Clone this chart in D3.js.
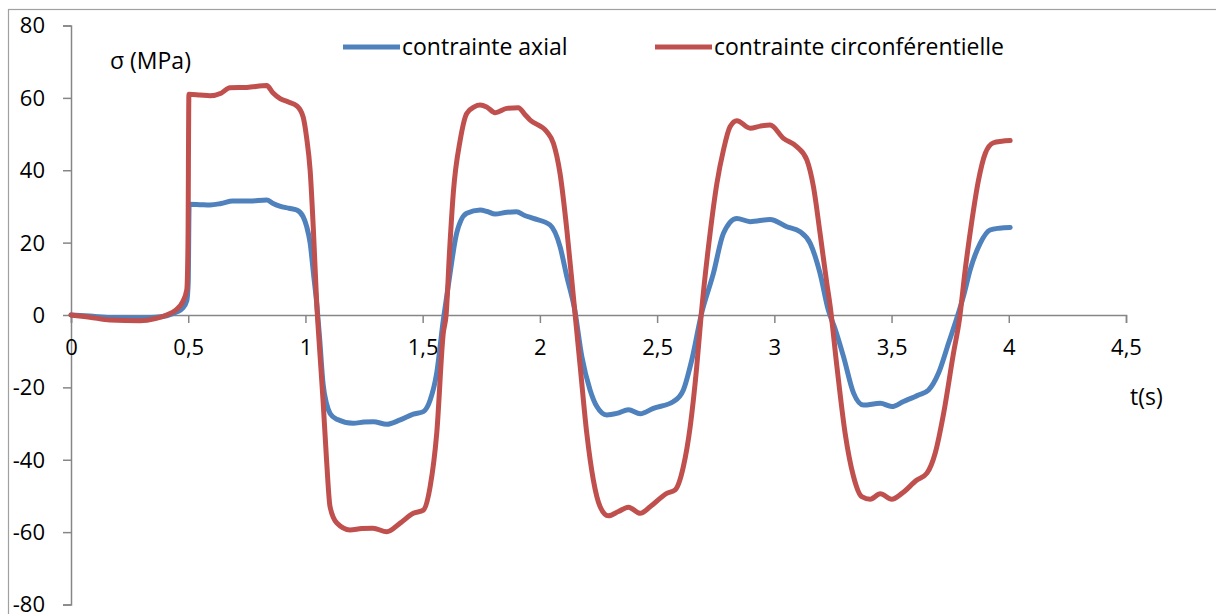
<!DOCTYPE html>
<html>
<head>
<meta charset="utf-8">
<script src="https://cdn.jsdelivr.net/npm/d3@7/dist/d3.min.js"></script>
<style>
  html, body { margin: 0; padding: 0; background: #fff; }
  svg { display: block; }
  text { font-family: "Open Sans", "Liberation Sans", Arial, sans-serif; fill: #000; }
</style>
</head>
<body>
<svg id="chart" width="1216" height="614"></svg>
<script>
// ---- Data ----
const seriesNames = ["contrainte axial", "contrainte circonférentielle"];
const xTicks = [0, 0.5, 1, 1.5, 2, 2.5, 3, 3.5, 4, 4.5];
const yTicks = [-80, -60, -40, -20, 0, 20, 40, 60, 80];
const xLabel = "t(s)";
const yLabel = "σ (MPa)";

const tAxial = [0, 0.08, 0.166, 0.294, 0.36, 0.408, 0.45, 0.475, 0.494, 0.5, 0.504, 0.55, 0.593, 0.64, 0.69, 0.76, 0.835, 0.86, 0.89, 0.93, 0.963, 0.99, 1.005, 1.02, 1.035, 1.048, 1.06, 1.075, 1.09, 1.105, 1.134, 1.203, 1.25, 1.29, 1.347, 1.404, 1.46, 1.503, 1.532, 1.56, 1.588, 1.6, 1.617, 1.645, 1.688, 1.745, 1.775, 1.809, 1.86, 1.9, 1.935, 1.972, 2.043, 2.086, 2.115, 2.147, 2.179, 2.214, 2.243, 2.285, 2.328, 2.378, 2.428, 2.484, 2.57, 2.612, 2.648, 2.688, 2.74, 2.783, 2.84, 2.897, 2.982, 3.053, 3.11, 3.153, 3.195, 3.23, 3.26, 3.295, 3.338, 3.38, 3.452, 3.501, 3.551, 3.615, 3.658, 3.7, 3.743, 3.79, 3.81, 3.835, 3.878, 3.92, 3.96, 4.006];
const axial = [0, -0.3, -0.7, -0.8, -0.6, -0.2, 0.8, 1.8, 4, 9, 30.6, 30.5, 30.4, 30.8, 31.5, 31.5, 31.8, 30.9, 30.1, 29.5, 29, 27.2, 24.5, 19.9, 11, 3.3, -6, -18.9, -24.5, -27.2, -28.8, -29.9, -29.6, -29.5, -30.2, -29, -27.4, -26.7, -23.5, -16, -1.4, 4, 11.6, 22.6, 28.1, 29, 28.6, 27.9, 28.4, 28.5, 27.5, 26.7, 24.9, 18.9, 10.6, 2, -11.5, -20.7, -25.3, -27.6, -27.2, -26.2, -27.3, -25.8, -23.9, -20.7, -12.4, 0, 11.5, 22.6, 26.7, 25.8, 26.4, 24.4, 23, 19.8, 11.5, 1.4, -4, -11.5, -21.6, -24.9, -24.4, -25.3, -23.9, -22.1, -20.7, -16.1, -7.8, 1.5, 6, 12.4, 19.8, 23.5, 24, 24.2];

const tCirc = [0, 0.08, 0.166, 0.294, 0.36, 0.408, 0.45, 0.475, 0.494, 0.499, 0.503, 0.55, 0.593, 0.64, 0.678, 0.75, 0.835, 0.86, 0.892, 0.93, 0.963, 0.99, 1.005, 1.02, 1.035, 1.048, 1.06, 1.075, 1.09, 1.105, 1.134, 1.19, 1.24, 1.288, 1.347, 1.404, 1.46, 1.503, 1.532, 1.56, 1.588, 1.6, 1.615, 1.631, 1.66, 1.688, 1.72, 1.745, 1.773, 1.809, 1.859, 1.908, 1.935, 1.958, 2.03, 2.058, 2.086, 2.115, 2.143, 2.172, 2.2, 2.228, 2.257, 2.292, 2.335, 2.378, 2.428, 2.47, 2.541, 2.577, 2.612, 2.641, 2.669, 2.688, 2.726, 2.755, 2.783, 2.811, 2.84, 2.897, 2.94, 2.982, 3.039, 3.096, 3.139, 3.167, 3.195, 3.224, 3.238, 3.267, 3.302, 3.338, 3.373, 3.409, 3.452, 3.501, 3.544, 3.608, 3.651, 3.686, 3.722, 3.764, 3.79, 3.814, 3.843, 3.871, 3.9, 3.935, 3.97, 4.006];
const circ = [0, -0.6, -1.4, -1.6, -1.0, 0, 1.5, 3.5, 7, 20, 61, 60.8, 60.6, 61.3, 62.8, 62.9, 63.4, 61.5, 59.8, 58.8, 57.8, 54.8, 49, 40, 22, 3.3, -9, -23.5, -40, -53, -57.5, -59.4, -59, -58.9, -59.9, -57.5, -54.8, -53.9, -47.4, -32.7, -5, 0, 18, 34, 48.3, 55.7, 57.5, 58, 57.5, 55.9, 57.1, 57.3, 55.5, 53.9, 50.6, 47.4, 39.1, 23.5, 5, -14.3, -32.7, -45.6, -53, -55.5, -54.3, -53.1, -54.8, -53, -49.3, -48.3, -41.9, -30.9, -14.3, 0, 22.6, 36.4, 45.6, 52, 53.7, 51.6, 52.2, 52.5, 48.8, 46.5, 42.8, 35.4, 22.6, 8.7, 2.5, -14.3, -32.7, -44.7, -50.2, -50.9, -49.4, -50.9, -49.3, -45.6, -43.7, -38.2, -27.2, -10.6, -1, 12.4, 26.2, 37.3, 44.7, 47.6, 48, 48.2];

const colors = ["#4F81BD", "#C0504D"];

// ---- Layout ----
const svg = d3.select("#chart");
const x = d3.scaleLinear().domain([0, 4.5]).range([71, 1126]);
const y = d3.scaleLinear().domain([-80, 80]).range([604.5, 25.5]);
const axisColor = "#868686";
const fontFam = "'Open Sans', 'Liberation Sans', Arial, sans-serif";

// chart frame
svg.append("rect")
  .attr("x", 8.5).attr("y", 9.5)
  .attr("width", 1216).attr("height", 620)
  .attr("fill", "none").attr("stroke", "#a0a0a0").attr("stroke-width", 1.2);

// y axis
const yAxis = svg.append("g").attr("transform", `translate(${x(0)},0)`)
  .call(d3.axisLeft(y).tickValues(yTicks).tickSize(8).tickFormat(d => d3.format("d")(d).replace("−", "-")));
yAxis.select(".domain").attr("stroke", axisColor).attr("stroke-width", 1.5);
yAxis.selectAll(".tick line").attr("stroke", axisColor).attr("stroke-width", 1.5);
yAxis.selectAll(".tick text").attr("font-size", 22).attr("x", -26).attr("dy", "0.34em")
  .style("font-family", fontFam).attr("fill", "#000");

// x axis
const xAxis = svg.append("g").attr("transform", `translate(0,${y(0)})`)
  .call(d3.axisBottom(x).tickValues(xTicks).tickSize(8).tickFormat(d => String(d).replace(".", ",")));
xAxis.select(".domain").attr("stroke", axisColor).attr("stroke-width", 1.5);
xAxis.selectAll(".tick line").attr("stroke", axisColor).attr("stroke-width", 1.5);
xAxis.selectAll(".tick text").attr("font-size", 22).attr("y", 33).attr("dy", "0.34em")
  .style("font-family", fontFam).attr("fill", "#000");

// series lines
const line = d3.line().curve(d3.curveMonotoneX).x(d => x(d[0])).y(d => y(d[1]));
const seriesData = [
  d3.zip(tAxial, axial),
  d3.zip(tCirc, circ)
];
svg.selectAll("path.series").data(seriesData).join("path")
  .attr("class", "series")
  .attr("d", line)
  .attr("fill", "none")
  .attr("stroke", (d, i) => colors[i])
  .attr("stroke-width", 5)
  .attr("stroke-linejoin", "round")
  .attr("stroke-linecap", "round");

// legend
const legendX = [343, 655];
const lg = svg.append("g");
seriesNames.forEach((name, i) => {
  lg.append("line").attr("x1", legendX[i]).attr("x2", legendX[i] + 57)
    .attr("y1", 47).attr("y2", 47)
    .attr("stroke", colors[i]).attr("stroke-width", 5);
  lg.append("text").attr("x", legendX[i] + 59).attr("y", 47).attr("dy", "0.34em")
    .attr("font-size", 23).text(name);
});

// axis titles
svg.append("text").attr("x", 110).attr("y", 61).attr("dy", "0.34em")
  .attr("font-size", 23).text(yLabel);
svg.append("text").attr("x", 1130).attr("y", 397).attr("dy", "0.34em")
  .attr("font-size", 23).text(xLabel);
</script>
</body>
</html>
